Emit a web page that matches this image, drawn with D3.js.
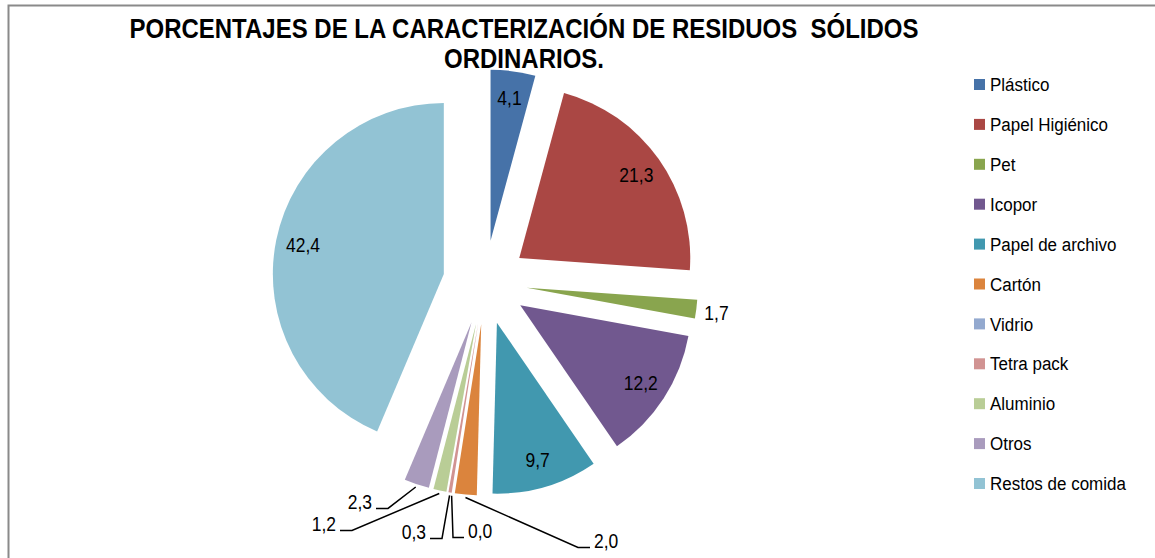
<!DOCTYPE html>
<html>
<head>
<meta charset="utf-8">
<script src="https://cdn.jsdelivr.net/npm/d3@7"></script>
<style>
  body { margin: 0; background: #fff; }
  text { font-family: "Liberation Sans", Arial, sans-serif; fill: #000; }
  .title { white-space: pre; }
</style>
</head>
<body>
<div id="wrapper"></div>
<script>
// datos del grafico
const categories = ["Plástico", "Papel Higiénico", "Pet", "Icopor", "Papel de archivo",
    "Cartón", "Vidrio", "Tetra pack", "Aluminio", "Otros", "Restos de comida"];
const values = [4.1, 21.3, 1.7, 12.2, 9.7, 2.0, 0.0, 0.3, 1.2, 2.3, 42.4];
const colors = ["#4672A8", "#AA4744", "#89A54E", "#71588F", "#4198AF",
    "#DB843D", "#93A9CF", "#D19392", "#B9CD96", "#A99BBD", "#92C3D4"];
const titleLines = ["PORCENTAJES DE LA CARACTERIZACIÓN DE RESIDUOS  SÓLIDOS", "ORDINARIOS."];

// etiquetas fuera del pastel: codo (relativo al centro) y largo del tramo horizontal
const leaderLayout = {
    "Cartón":     { ex: 93,   ey: 265, run: 12 },
    "Vidrio":     { ex: -32,  ey: 255, run: 11 },
    "Tetra pack": { ex: -43,  ey: 256, run: -12 },
    "Aluminio":   { ex: -133, ey: 248, run: -12 },
    "Otros":      { ex: -97,  ey: 226, run: -12 }
};
const outsideLabels = { "Pet": { dx: 8, dy: 11 } };

const dimension = {
    width: 1155,
    height: 558,
    cx: 485,
    cy: 282.4,
    radius: 171,
    explode: 42
};

const fmt = v => v.toFixed(1).replace(".", ",");
const stretch = 1.12;

const svg = d3.select("#wrapper").append("svg")
    .attr("width", dimension.width)
    .attr("height", dimension.height);

// marco
svg.append("path")
    .attr("d", "M8.5,558 V5.5 H1155")
    .attr("fill", "none")
    .attr("stroke", "#8a8a8a")
    .attr("stroke-width", 2);

// titulo
titleLines.forEach((t, i) => {
    svg.append("text")
        .attr("class", "title")
        .attr("transform", `translate(524, ${38 + i * 30}) scale(1, ${stretch})`)
        .attr("text-anchor", "middle")
        .attr("font-size", 24)
        .attr("font-weight", "bold")
        .text(t);
});

const pie = d3.pie().sort(null).value(d => d);
const arcs = pie(values);
const arc = d3.arc().innerRadius(0).outerRadius(dimension.radius);

const pieG = svg.append("g")
    .attr("transform", `translate(${dimension.cx}, ${dimension.cy})`);

const mid = d => (d.startAngle + d.endAngle) / 2;
const offset = d => [dimension.explode * Math.sin(mid(d)), -dimension.explode * Math.cos(mid(d))];

const slices = pieG.selectAll("g.slice")
    .data(arcs)
    .join("g")
    .attr("class", "slice")
    .attr("transform", d => `translate(${offset(d)[0]}, ${offset(d)[1]})`);

slices.append("path")
    .attr("d", arc)
    .attr("fill", (d, i) => colors[i]);

// etiquetas dentro
const labelR = dimension.radius * 0.84;
slices.filter((d, i) => !leaderLayout[categories[i]] && !outsideLabels[categories[i]])
    .append("text")
    .attr("transform", d => `translate(${labelR * Math.sin(mid(d))}, ${-labelR * Math.cos(mid(d))}) scale(1, ${stretch})`)
    .attr("text-anchor", "middle")
    .attr("dy", "0.35em")
    .attr("font-size", 17.5)
    .text(d => fmt(d.data));

// etiqueta fuera sin linea (Pet)
slices.filter((d, i) => outsideLabels[categories[i]])
    .append("text")
    .attr("transform", d => {
        const o = outsideLabels[categories[d.index]];
        const x = dimension.radius * Math.sin(mid(d)) + o.dx;
        const y = -dimension.radius * Math.cos(mid(d)) + o.dy;
        return `translate(${x}, ${y}) scale(1, ${stretch})`;
    })
    .attr("font-size", 17.5)
    .text(d => fmt(d.data));

// etiquetas con lineas guia
arcs.forEach((d, i) => {
    const lay = leaderLayout[categories[i]];
    if (!lay) return;
    const off = offset(d);
    const r0 = dimension.radius + 3;
    const ax = off[0] + r0 * Math.sin(mid(d));
    const ay = off[1] - r0 * Math.cos(mid(d));
    pieG.append("path")
        .attr("d", d3.line()([[ax, ay], [lay.ex, lay.ey], [lay.ex + lay.run, lay.ey]]))
        .attr("fill", "none")
        .attr("stroke", "#000")
        .attr("stroke-width", 1.5);
    const tx = lay.ex + lay.run + (lay.run > 0 ? 4 : -4);
    pieG.append("text")
        .attr("transform", `translate(${tx}, ${lay.ey + 1}) scale(1, ${stretch})`)
        .attr("text-anchor", lay.run > 0 ? "start" : "end")
        .attr("font-size", 17.5)
        .text(fmt(d.data));
});

// leyenda
const legend = svg.append("g").attr("transform", "translate(974, 84.5)");
const item = legend.selectAll("g")
    .data(categories)
    .join("g")
    .attr("transform", (d, i) => `translate(0, ${i * 39.9})`);
item.append("rect")
    .attr("x", 0).attr("y", -5.5)
    .attr("width", 11).attr("height", 11)
    .attr("fill", (d, i) => colors[i]);
item.append("text")
    .attr("transform", `translate(16, 0) scale(1, ${stretch})`)
    .attr("dy", "0.35em")
    .attr("font-size", 17)
    .text(d => d);
</script>
</body>
</html>
